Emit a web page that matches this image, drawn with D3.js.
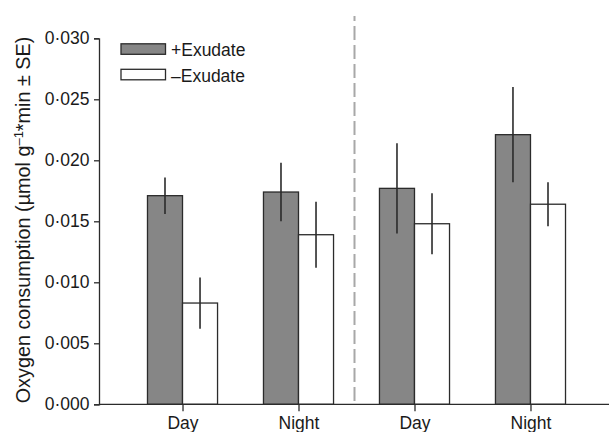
<!DOCTYPE html>
<html><head><meta charset="utf-8">
<script src="https://cdn.jsdelivr.net/npm/d3@7"></script>
<style>body{margin:0;background:#fff}svg{display:block}text{font-family:"Liberation Sans",Arial,sans-serif;fill:#1a1a1a}</style>
</head><body><svg id="c" width="609" height="432"></svg>
<script>
const categories = ["Day", "Night", "Day", "Night"];
const seriesNames = ["+Exudate", "\u2013Exudate"];
const plusExudate = [0.0171, 0.0174, 0.0177, 0.0221];
const plusSE = [0.0015, 0.0024, 0.0037, 0.0039];
const minusExudate = [0.0083, 0.0139, 0.0148, 0.0164];
const minusSE = [0.0021, 0.0027, 0.0025, 0.0018];
const yTicks = [0, 0.005, 0.010, 0.015, 0.020, 0.025, 0.030];

const W = 609, H = 432;
const svg = d3.select("#c");
const mLeft = 99, mBottom = 404.3, mTop = 38.3;
const y = d3.scaleLinear().domain([0, 0.03]).range([mBottom, mTop]);
const x = d3.scalePoint().domain(d3.range(categories.length)).range([99, 614]).padding(0.72);
const step = x.step();
const bw = step * 0.302;
const fmt = v => d3.format(".3f")(v).replace(".", "\u00b7");
const ink = "#2b2b2b";
const FS = 17.5;

// bars
const series = [
  {vals: plusExudate, se: plusSE, fill: "#868686", off: -1},
  {vals: minusExudate, se: minusSE, fill: "#ffffff", off: 0}
];
series.forEach(s => {
  const g = svg.append("g");
  g.selectAll("rect").data(s.vals).join("rect")
    .attr("x", (d, i) => x(i) + s.off * bw)
    .attr("width", bw)
    .attr("y", d => y(d))
    .attr("height", d => mBottom - y(d))
    .attr("fill", s.fill).attr("stroke", ink).attr("stroke-width", 1.3);
  g.selectAll("line").data(s.vals).join("line")
    .attr("x1", (d, i) => x(i) + s.off * bw + bw / 2)
    .attr("x2", (d, i) => x(i) + s.off * bw + bw / 2)
    .attr("y1", (d, i) => y(d + s.se[i]))
    .attr("y2", (d, i) => y(d - s.se[i]))
    .attr("stroke", ink).attr("stroke-width", 1.6);
});

// dashed separator
const sepX = (x(1) + x(2)) / 2 - 2;
svg.append("line").attr("x1", sepX).attr("x2", sepX).attr("y1", 16).attr("y2", mBottom)
  .attr("stroke", "#a8a8a8").attr("stroke-width", 2).attr("stroke-dasharray", "14,5").attr("stroke-dashoffset", 9);

// y axis
const ya = svg.append("g").attr("transform", `translate(${mLeft},0)`)
  .call(d3.axisLeft(y).tickValues(yTicks).tickFormat(fmt).tickSizeOuter(0).tickSize(5).tickPadding(4.5));
ya.select(".domain").attr("stroke", ink).attr("stroke-width", 1.3);
ya.selectAll(".tick line").attr("stroke", ink).attr("stroke-width", 1.3);
ya.selectAll(".tick text").attr("font-size", FS).attr("fill", "#1a1a1a")
  .style("font-family", '"Liberation Sans", Arial, sans-serif');

// x axis
const xa = svg.append("g").attr("transform", `translate(0,${mBottom})`)
  .call(d3.axisBottom(x).tickFormat(i => categories[i]).tickSizeOuter(0).tickSize(7).tickPadding(5));
xa.select(".domain").remove();
svg.append("line").attr("x1", mLeft).attr("x2", W).attr("y1", mBottom).attr("y2", mBottom)
  .attr("stroke", ink).attr("stroke-width", 1.3);
xa.selectAll(".tick line").attr("stroke", ink).attr("stroke-width", 1.3);
xa.selectAll(".tick text").attr("font-size", FS).attr("fill", "#1a1a1a")
  .style("font-family", '"Liberation Sans", Arial, sans-serif');

// y label
svg.append("text")
  .attr("transform", `translate(30,220) rotate(-90)`)
  .attr("text-anchor", "middle").attr("font-size", 19.8)
  .html('Oxygen consumption (\u00b5mol g<tspan dy="-7" font-size="13">\u20131</tspan><tspan dy="7">*min \u00b1 SE)</tspan>');

// legend
const lg = svg.append("g");
series.forEach((s, i) => {
  lg.append("rect").attr("x", 121).attr("y", 43.8 + i * 25.5).attr("width", 44.5).attr("height", 10.5)
    .attr("fill", s.fill).attr("stroke", ink).attr("stroke-width", 1.3);
  lg.append("text").attr("x", 171).attr("y", 56 + i * 25.5).attr("font-size", FS).text(seriesNames[i]);
});
</script></body></html>
